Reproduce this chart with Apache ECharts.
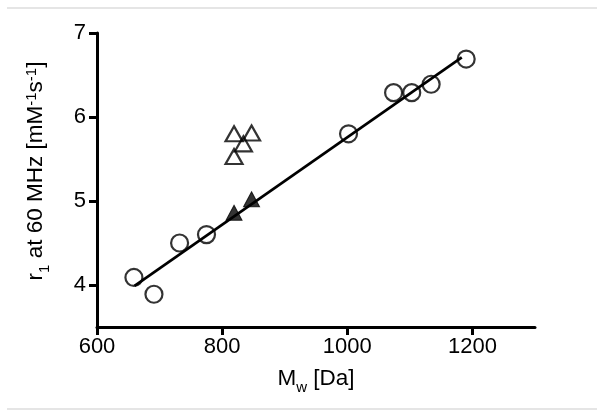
<!DOCTYPE html>
<html>
<head>
<meta charset="utf-8">
<style>html,body{margin:0;padding:0;background:#fff;}#c{width:604px;height:418px;}</style>
<script src="https://cdn.jsdelivr.net/npm/echarts@6/dist/echarts.min.js"></script>
</head>
<body>
<div id="c"></div>
<script>
var openCircles = [[659,4.09],[691,3.89],[732,4.5],[775,4.6],[1002,5.8],[1074,6.29],[1103,6.29],[1134,6.39],[1190,6.69]];
var openTriangles = [[819,5.8],[847,5.81],[834,5.68],[819,5.53]];
var filledTriangles = [[819,4.86],[847,5.02]];
var fitLine = [[660,3.99],[1183,6.71]];
var xTicks = [600,800,1000,1200];
var yTicks = [4,5,6,7];

var chart = echarts.init(document.getElementById('c'));
var font = 'Liberation Sans, Arial, sans-serif';
var richStyles = {
  a: {fontSize: 22.5, lineHeight: 32, fontFamily: font, color: '#000'},
  sub: {fontSize: 15, lineHeight: 15, fontFamily: font, color: '#000', verticalAlign: 'bottom'},
  sup: {fontSize: 15, lineHeight: 15, fontFamily: font, color: '#000', verticalAlign: 'top', padding: [4,0,0,0]}
};
chart.setOption({
  animation: false,
  backgroundColor: '#fff',
  grid: {left: 97, right: 69, top: 33, bottom: 91},
  graphic: [
    {type: 'line', shape: {x1: 7, y1: 8, x2: 597, y2: 8}, style: {stroke: '#dcdcdc', lineWidth: 1.5}},
    {type: 'line', shape: {x1: 7, y1: 409, x2: 597, y2: 409}, style: {stroke: '#dcdcdc', lineWidth: 1.5}}
  ],
  xAxis: {
    type: 'value', min: 600, max: 1300,
    splitLine: {show: false},
    axisLine: {lineStyle: {color: '#000', width: 3}},
    axisTick: {customValues: xTicks, length: 8, lineStyle: {color: '#000', width: 3}},
    axisLabel: {customValues: xTicks, margin: 9, color: '#000', fontSize: 22, fontFamily: font,
      formatter: function (v) { return String(v); }},
    name: '{a|M}{sub|w}{a| [Da]}',
    nameLocation: 'middle', nameGap: 36,
    nameTextStyle: {fontFamily: font, color: '#000', rich: richStyles}
  },
  yAxis: {
    type: 'value', min: 3.5, max: 7,
    splitLine: {show: false},
    axisLine: {lineStyle: {color: '#000', width: 3}},
    axisTick: {customValues: yTicks, length: 8, lineStyle: {color: '#000', width: 3}},
    axisLabel: {customValues: yTicks, margin: 11, color: '#000', fontSize: 22, fontFamily: font,
      formatter: function (v) { return String(v); }},
    name: '{a|r}{sub|1}{a| at 60 MHz [mM}{sup|-1}{a|s}{sup|-1}{a|]}',
    nameLocation: 'middle', nameGap: 45, nameRotate: 90,
    nameTextStyle: {fontFamily: font, color: '#000', rich: richStyles, padding: [0,0,0,18]}
  },
  series: [
    {type: 'line', data: fitLine, symbol: 'none', lineStyle: {color: '#000', width: 2.7}, z: 1},
    {type: 'scatter', data: openCircles, symbol: 'circle', symbolSize: 17,
      itemStyle: {color: 'rgba(255,255,255,0)', borderColor: '#000', borderWidth: 2.2}, z: 3},
    {type: 'scatter', data: openTriangles, symbol: 'triangle', symbolSize: [17,15],
      itemStyle: {color: 'rgba(255,255,255,0)', borderColor: '#000', borderWidth: 2.2}, z: 3},
    {type: 'scatter', data: filledTriangles, symbol: 'triangle', symbolSize: [16,15],
      itemStyle: {color: '#000', borderColor: '#000', borderWidth: 1}, z: 3}
  ]
});
</script>
</body>
</html>
